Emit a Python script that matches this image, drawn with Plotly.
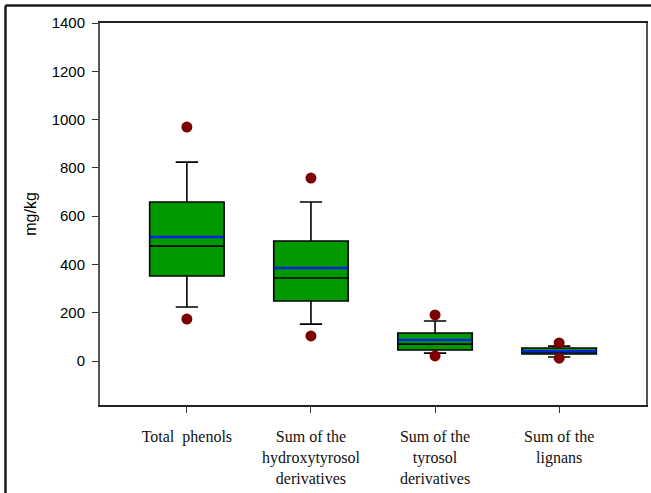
import plotly.graph_objects as go

categories = ["Total  phenols", "Sum of the<br>hydroxytyrosol<br>derivatives",
              "Sum of the<br>tyrosol<br>derivatives", "Sum of the<br>lignans"]
positions = [1, 2, 3, 4]
q1 = [352, 249, 46, 29]
median = [476, 344, 70, 37]
q3 = [659, 497, 116, 54]
lower_whisker = [224, 153, 33, 17]
upper_whisker = [824, 659, 166, 62]
mean = [514, 385, 87, 41]
outlier_high = [969, 758, 191, 75]
outlier_low = [174, 104, 21, 12]
y_ticks = [0, 200, 400, 600, 800, 1000, 1200, 1400]

BOX_W = 0.6
W, H = 651, 493
ML, MR, MT, MB = 100, 5, 23, 88

fig = go.Figure()
fig.add_trace(go.Box(
    x=positions, q1=q1, median=median, q3=q3,
    lowerfence=lower_whisker, upperfence=upper_whisker,
    width=BOX_W, whiskerwidth=0.3,
    fillcolor="#009900", line=dict(color="black", width=1.6),
    boxpoints=False, showlegend=False, hoverinfo="skip"))

mx, my = [], []
for p, m in zip(positions, mean):
    mx += [p - BOX_W / 2, p + BOX_W / 2, None]
    my += [m, m, None]
fig.add_trace(go.Scatter(x=mx, y=my, mode="lines",
                         line=dict(color="#0022dd", width=2.5),
                         showlegend=False, hoverinfo="skip"))

fig.add_trace(go.Scatter(x=positions + positions, y=outlier_high + outlier_low,
                         mode="markers",
                         marker=dict(color="#7f0000", size=11),
                         showlegend=False, hoverinfo="skip"))

pw = W - ML - MR
ph = H - MT - MB
def px_x(v):
    return (v - ML) / pw
def px_y(v):
    return (H - MB - v) / ph

fig.add_shape(type="line", xref="paper", yref="paper",
              x0=px_x(5.5), x1=px_x(W + 5), y0=px_y(5.5), y1=px_y(5.5),
              line=dict(color="#1a1a1a", width=2.5))
fig.add_shape(type="line", xref="paper", yref="paper",
              x0=px_x(5.5), x1=px_x(5.5), y0=px_y(5.5), y1=px_y(H + 5),
              line=dict(color="#1a1a1a", width=2.5))

fig.update_layout(
    width=W, height=H,
    margin=dict(l=ML, r=MR, t=MT, b=MB, autoexpand=False),
    paper_bgcolor="white", plot_bgcolor="white",
    xaxis=dict(range=[0.3, 4.7], tickmode="array", tickvals=positions,
               ticktext=categories, ticks="outside", ticklen=6,
               tickcolor="#333", showgrid=False, zeroline=False,
               showline=True, linecolor="#222", linewidth=1.5, mirror=True,
               automargin=False,
               tickfont=dict(family="Liberation Serif, Times New Roman, serif",
                             size=16, color="#111"),
               ticklabelstandoff=10),
    yaxis=dict(range=[-182, 1400], tickmode="array", tickvals=y_ticks,
               ticks="outside", ticklen=6, tickcolor="#333",
               showgrid=False, zeroline=False, automargin=False,
               showline=True, linecolor="#555", linewidth=2, mirror=True,
               ticklabelstandoff=4,
               tickfont=dict(family="Liberation Sans, Arial, sans-serif",
                             size=15, color="black"),
               title=dict(text="mg/kg", standoff=11,
                          font=dict(family="Liberation Sans, Arial, sans-serif",
                                    size=16, color="black"))),
)

fig.write_html("out.html", config={"displayModeBar": False},
               post_script="document.body.style.margin='0';document.body.style.overflow='hidden';")
